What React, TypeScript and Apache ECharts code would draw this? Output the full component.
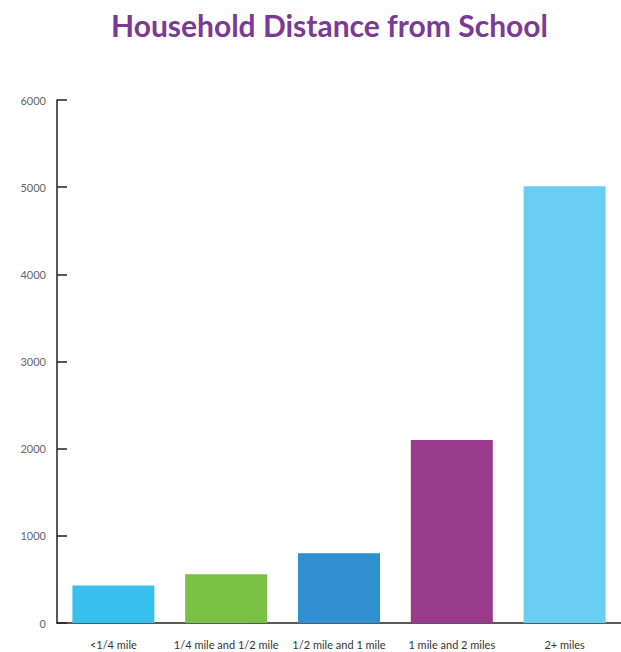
import React, { useEffect, useRef } from "react";
import * as echarts from "echarts";

const categories = ["<1/4 mile", "1/4 mile and 1/2 mile", "1/2 mile and 1 mile", "1 mile and 2 miles", "2+ miles"];
const values = [430, 560, 800, 2100, 5010];
const barColors = ["#38BFEC", "#78C144", "#2F8FD0", "#9A3A8D", "#69CEF1"];
const yTicks = [0, 1000, 2000, 3000, 4000, 5000, 6000];

export default function App() {
  const ref = useRef<HTMLDivElement>(null);
  useEffect(() => {
    document.body.style.margin = "0";
    const chart = echarts.init(ref.current!, null, { renderer: "svg" });
    chart.setOption({
      animation: false,
      backgroundColor: "#ffffff",
      title: {
        text: "Household Distance from School",
        left: 106,
        top: 5,
        textStyle: { fontFamily: "Lato", fontWeight: "bold", fontSize: 30, color: "#7A3A95" },
      },
      grid: { left: 57, right: 0, top: 100, bottom: 29, containLabel: false },
      xAxis: {
        type: "category",
        data: categories,
        axisLine: { lineStyle: { color: "#222", width: 1.5 } },
        axisTick: { inside: true, length: 12, lineStyle: { color: "#222", width: 1.5 } },
        axisLabel: { color: "#333", fontFamily: "Lato", fontSize: 11, margin: 16, interval: 0 },
      },
      yAxis: {
        type: "value",
        min: yTicks[0],
        max: yTicks[yTicks.length - 1],
        interval: 1000,
        splitLine: { show: false },
        axisLine: { show: true, lineStyle: { color: "#222", width: 1.5 } },
        axisTick: { show: true, inside: true, length: 10, lineStyle: { color: "#222", width: 1.5 } },
        axisLabel: {
          color: "#666",
          fontFamily: "Lato",
          fontSize: 11,
          margin: 11,
          padding: [10, 0, 0, 0],
          formatter: (v: number) => String(v),
        },
      },
      series: [
        {
          type: "bar",
          barWidth: 82,
          data: values.map((v, i) => ({ value: v, itemStyle: { color: barColors[i] } })),
        },
      ],
    });
    return () => chart.dispose();
  }, []);
  return <div ref={ref} style={{ width: 621, height: 652 }} />;
}
